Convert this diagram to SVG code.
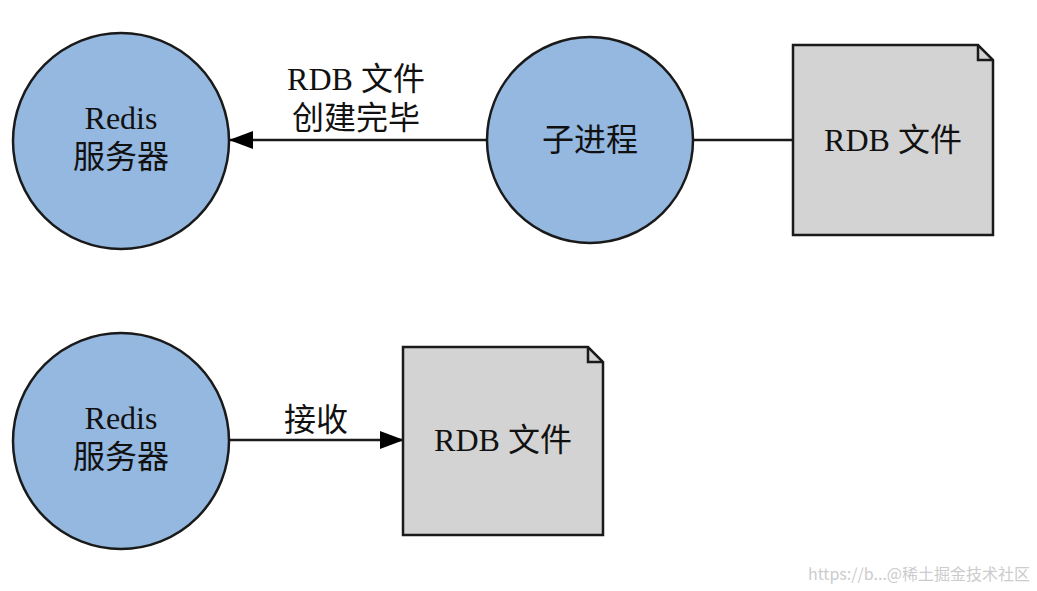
<svg xmlns="http://www.w3.org/2000/svg" width="1037" height="591" viewBox="0 0 1037 591">
<defs>
<style>
.c{fill:#94b8e0;stroke:#1a1a1a;stroke-width:2.5}
.d{fill:#d3d3d3;stroke:#1a1a1a;stroke-width:2.5}
.t{font-family:"Liberation Serif","Noto Sans CJK SC",serif;font-size:32px;fill:#111;text-anchor:middle}
.e{stroke:#1a1a1a;stroke-width:2.5;fill:none}
</style>
<marker id="a" markerWidth="24" markerHeight="18" refX="23" refY="9" orient="auto" markerUnits="userSpaceOnUse" viewBox="0 0 24 18"><path d="M0,0L24,9L0,18z" fill="#000"/></marker>
</defs>
<rect width="1037" height="591" fill="#fff"/>
<g id="edges">
<line class="e" x1="487" y1="140" x2="230" y2="140" marker-end="url(#a)"/>
<line class="e" x1="693" y1="140" x2="793" y2="140"/>
<line class="e" x1="230" y1="440" x2="403" y2="440" marker-end="url(#a)"/>
<text class="t" x="356" y="90">RDB 文件</text>
<text class="t" x="356" y="129">创建完毕</text>
<text class="t" x="316" y="431">接收</text>
</g>
<g id="redis1"><circle class="c" cx="121" cy="141" r="108"/><text class="t" x="121" y="129">Redis</text><text class="t" x="121" y="168">服务器</text></g>
<g id="child"><circle class="c" cx="590" cy="140" r="103"/><text class="t" x="590" y="151">子进程</text></g>
<g id="rdb1"><path class="d" d="M793,45H978L993,60V235H793Z"/><path class="e" d="M978,45V60H993"/><text class="t" x="893" y="151">RDB 文件</text></g>
<g id="redis2"><circle class="c" cx="121" cy="441" r="108"/><text class="t" x="121" y="429">Redis</text><text class="t" x="121" y="468">服务器</text></g>
<g id="rdb2"><path class="d" d="M403,347H588L603,362V535H403Z"/><path class="e" d="M588,347V362H603"/><text class="t" x="503" y="451">RDB 文件</text></g>
<text x="1030" y="580" font-family="Noto Sans CJK SC,sans-serif" font-size="16" fill="#ccc" text-anchor="end">https://b...@稀土掘金技术社区</text>
</svg>
